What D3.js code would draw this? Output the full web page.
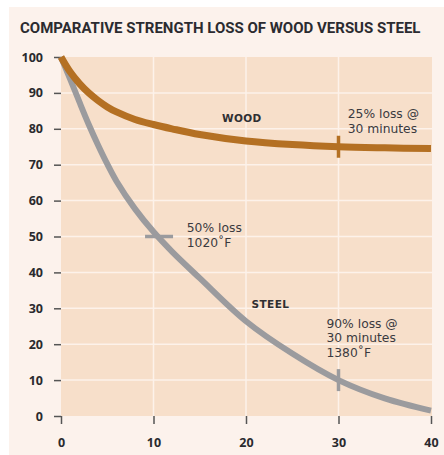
<!DOCTYPE html>
<html>
<head>
<meta charset="utf-8">
<script src="https://cdn.jsdelivr.net/npm/d3@7"></script>
<style>
  body { margin: 0; background: #ffffff; }
  svg { display: block; }
</style>
</head>
<body>
<div id="chart"></div>
<script>
// data
var minutes = [0, 1, 2, 3, 4, 5, 6, 8, 10, 12, 15, 20, 25, 30, 35, 40];
var wood    = [100, 95.8, 92.6, 90, 87.9, 86.1, 84.7, 82.6, 81.2, 80, 78.4, 76.6, 75.6, 75, 74.7, 74.5];
var steel   = [100, 93.8, 87.4, 81.2, 75.5, 70.2, 65.4, 57.7, 51.3, 45.8, 38.4, 26.4, 17.4, 10, 4.9, 1.5];
var xTicks = [0, 10, 20, 30, 40];
var yTicks = [0, 10, 20, 30, 40, 50, 60, 70, 80, 90, 100];
var title = "COMPARATIVE STRENGTH LOSS OF WOOD VERSUS STEEL";

// markers on the curves
var markers = [
  {series: "wood",  x: 30,   y: 75, dir: "v"},
  {series: "steel", x: 10.6, y: 50, dir: "h"},
  {series: "steel", x: 30,   y: 10, dir: "v"}
];

// notes: anchor in data units, one entry per line
var notes = [
  {x: 17.4, y: 82,   lines: ["WOOD"], bold: true},
  {x: 31.0, y: 82.9, lines: ["25% loss @", "30 minutes"]},
  {x: 13.6, y: 51.3, lines: ["50% loss", "1020\u02daF"]},
  {x: 20.6, y: 30,   lines: ["STEEL"], bold: true},
  {x: 28.7, y: 24.6, lines: ["90% loss @", "30 minutes", "1380\u02daF"]}
];

var W = 444, H = 455;
var colWood = "#b47023", colSteel = "#9b9b9e";

var svg = d3.select("#chart").append("svg")
    .attr("width", W)
    .attr("height", H);

// panel background
svg.append("rect")
    .attr("x", 9).attr("y", 7)
    .attr("width", W - 9).attr("height", H - 7)
    .attr("fill", "#fcf2ec");

// title: size it so the whole line stays inside the window
var titleText = svg.append("text")
    .attr("x", 20).attr("y", 33)
    .style("font-family", "Roboto, 'Open Sans', sans-serif")
    .style("font-weight", "bold")
    .style("font-size", "15px")
    .attr("fill", "#2b2b30")
    .text(title);
var tw = titleText.node().getComputedTextLength();
if (tw > 420) titleText.style("font-size", (15 * 420 / tw) + "px");

var x = d3.scaleLinear().domain([0, 40]).range([61, 431]);
var y = d3.scaleLinear().domain([0, 100]).range([416, 57]);

// plot area
svg.append("rect")
    .attr("x", x(0)).attr("y", y(100))
    .attr("width", x(40) - x(0) + 1)
    .attr("height", y(0) - y(100))
    .attr("fill", "#f7dfca");

// grid
svg.append("g").selectAll("line")
    .data(yTicks.filter(function(d) { return d > 0 && d < 100; }))
  .enter().append("line")
    .attr("x1", x(0)).attr("x2", x(40) + 1)
    .attr("y1", function(d) { return y(d); })
    .attr("y2", function(d) { return y(d); })
    .attr("stroke", "#fdf2ea")
    .attr("stroke-width", 1.5);

svg.append("g").selectAll("line")
    .data(xTicks.filter(function(d) { return d > 0 && d < 40; }))
  .enter().append("line")
    .attr("x1", function(d) { return x(d); })
    .attr("x2", function(d) { return x(d); })
    .attr("y1", y(100)).attr("y2", y(0))
    .attr("stroke", "#fdf2ea")
    .attr("stroke-width", 1.5);

// axes
var yAxis = d3.axisLeft(y).tickValues(yTicks).tickSize(7).tickPadding(11);
var xAxis = d3.axisBottom(x).tickValues(xTicks).tickSize(8).tickPadding(14);

var gy = svg.append("g")
    .attr("transform", "translate(" + x(0) + ",0)")
    .call(yAxis);
var gx = svg.append("g")
    .attr("transform", "translate(0," + y(0) + ")")
    .call(xAxis);

[gx, gy].forEach(function(g) {
  g.select(".domain").remove();
  g.selectAll(".tick line").attr("stroke", "#555").attr("stroke-width", 1.5);
  g.selectAll(".tick text")
      .attr("fill", "#2a2a2e")
      .style("font-family", "'Open Sans', sans-serif")
      .style("font-weight", "bold")
      .style("font-size", "12.5px");
});

// curves
var line = d3.line()
    .x(function(d) { return x(d[0]); })
    .y(function(d) { return y(d[1]); })
    .curve(d3.curveCatmullRom);

svg.append("path")
    .datum(d3.zip(minutes, steel))
    .attr("d", line)
    .attr("fill", "none")
    .attr("stroke", colSteel)
    .attr("stroke-width", 6);

svg.append("path")
    .datum(d3.zip(minutes, wood))
    .attr("d", line)
    .attr("fill", "none")
    .attr("stroke", colWood)
    .attr("stroke-width", 7);

// markers
var half = 11;
svg.append("g").selectAll("line")
    .data(markers)
  .enter().append("line")
    .attr("x1", function(d) { return d.dir == "h" ? x(d.x) - 14 : x(d.x); })
    .attr("x2", function(d) { return d.dir == "h" ? x(d.x) + 14 : x(d.x); })
    .attr("y1", function(d) { return d.dir == "v" ? y(d.y) - half : y(d.y); })
    .attr("y2", function(d) { return d.dir == "v" ? y(d.y) + half : y(d.y); })
    .attr("stroke", function(d) { return d.series == "wood" ? colWood : colSteel; })
    .attr("stroke-width", 3.5);

// notes, one text per line
notes.forEach(function(n) {
  n.lines.forEach(function(s, i) {
    svg.append("text")
        .attr("x", x(n.x))
        .attr("y", y(n.y) + i * 14.8)
        .attr("fill", n.bold ? "#2f2f33" : "#3a3a3f")
        .style("font-family", "'DejaVu Sans', sans-serif")
        .style("font-weight", n.bold ? "bold" : "normal")
        .style("font-size", n.bold ? "10.5px" : "12.3px")
        .style("letter-spacing", n.bold ? "0.4px" : "0px")
        .text(s);
  });
});
</script>
</body>
</html>
